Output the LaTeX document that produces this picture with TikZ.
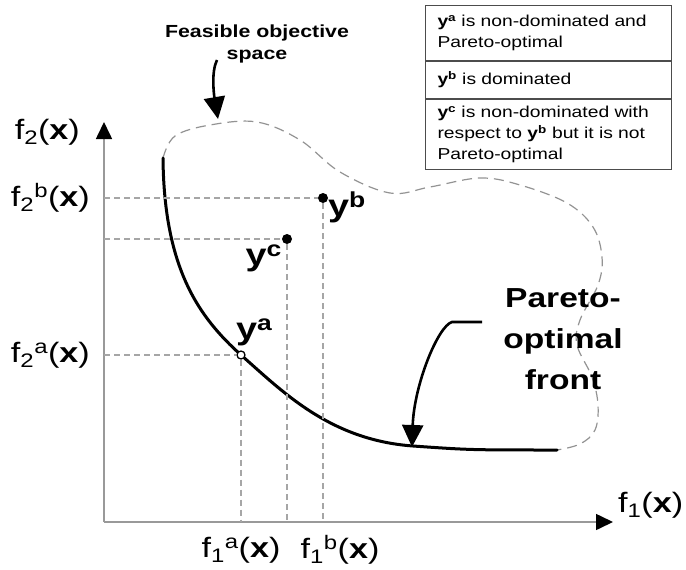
\documentclass[tikz,border=0pt]{standalone}
\usepackage{fontspec}
\setmainfont{Liberation Sans}[FakeStretch=1.22]
\usetikzlibrary{arrows.meta,positioning,calc}

\begin{document}
\begin{tikzpicture}[x=1pt, y=-1pt,
	axisline/.style={draw=gray!80, line width=1.6pt, -{Triangle[length=17pt,width=16pt,color=black]}},
	guide/.style={draw=gray!70, line width=1.2pt, dash pattern=on 6pt off 4pt},
	boundary/.style={draw=gray!85, line width=1.2pt, dash pattern=on 10pt off 6pt},
	paretofront/.style={line width=3pt, line cap=round},
	calloutarrow/.style={line width=2.6pt, -{Triangle[length=22pt,width=21pt]}},
	ptdot/.style={circle, fill=black, inner sep=0pt, minimum size=10pt},
	opendot/.style={circle, draw=black, fill=white, line width=1.3pt, inner sep=0pt, minimum size=8pt},
	lbl/.style={inner sep=0pt, font=\fontsize{28}{32}\selectfont},
	ptlbl/.style={inner sep=0pt, font=\fontsize{31}{34}\selectfont\bfseries},
	legrow/.style={draw=black!70, line width=1pt, anchor=north west, text width=222pt, inner xsep=12pt, inner ysep=0pt, align=left, font=\fontsize{15.8}{21}\selectfont}]
	\useasboundingbox (0,0) rectangle (686,570);
	\coordinate (O) at (104,522);
	\coordinate (ytop) at (104,122);
	\coordinate (xend) at (613,522);
	\draw[axisline] (O) -- (ytop);
	\draw[axisline] (O) -- (xend);
	\draw[boundary] plot[smooth, tension=0.6] coordinates
		{(163,158) (175,136) (210,125) (257,122) (300,140) (340,172) (390,193) (430,187) (480,178) (520,185) (567,203) (593,227) (602,257) (598,285) (580,320) (577,345) (592,377) (598,405) (595,430) (580,444) (557,450)};
	\draw[paretofront] (163,158) .. controls (164,270) and (200,318) .. (241,355)
		.. controls (283,392) and (330,440) .. (413,446) .. controls (470,450) .. (557,450);
	\node[opendot] (ya) at (241,355) {};
	\node[ptdot] (yb) at (323,198) {};
	\node[ptdot] (yc) at (287,239) {};
	\draw[guide] (O |- ya) -- (ya) -- (O -| ya);
	\draw[guide] (O |- yb) -- (yb) -- (O -| yb);
	\draw[guide] (O |- yc) -- (yc) -- (O -| yc);
	\node[ptlbl, anchor=south west] (lya) at (236,346) {y\textsuperscript{a}};
	\node[ptlbl, anchor=north west] (lyb) at (328,192) {y\textsuperscript{b}};
	\node[ptlbl, anchor=north east] (lyc) at (282,245) {y\textsuperscript{c}};
	\node[lbl, anchor=east] (f2) at (80,132) {f\textsubscript{2}(\textbf{x})};
	\node[lbl, anchor=east] (f2b) at (90,198) {f\textsubscript{2}\textsuperscript{b}(\textbf{x})};
	\node[lbl, anchor=east] (f2a) at (90,355) {f\textsubscript{2}\textsuperscript{a}(\textbf{x})};
	\node[lbl] (f1a) at (241,550) {f\textsubscript{1}\textsuperscript{a}(\textbf{x})};
	\node[lbl] (f1b) at (340,550) {f\textsubscript{1}\textsuperscript{b}(\textbf{x})};
	\node[lbl, anchor=west] (f1) at (618,505) {f\textsubscript{1}(\textbf{x})};
	\node[inner sep=0pt, align=center, font=\fontsize{17.5}{22}\selectfont\bfseries] (fos) at (257,44) {Feasible objective\\space};
	\coordinate (fosa) at (217,60);
	\coordinate (fost) at (218,119);
	\draw[calloutarrow] (fosa) .. controls (211,72) and (214,95) .. (fost);
	\node[inner sep=0pt, align=center, font=\fontsize{27.5}{41}\selectfont\bfseries] (pof) at (563,339) {Pareto-\\optimal\\front};
	\coordinate (pofa) at (482,322);
	\coordinate (poft) at (412,447);
	\draw[calloutarrow] (pofa) -- (452,322) .. controls (438,326) and (414,385) .. (poft);
	\node[legrow, minimum height=55pt] (lega) at (425,5) {\textbf{y\textsuperscript{a}} is non-dominated and\\Pareto-optimal};
	\node[legrow, minimum height=37pt] (legb) at (lega.south west) {\textbf{y\textsuperscript{b}} is dominated};
	\node[legrow, minimum height=70pt] (legc) at (legb.south west) {\textbf{y\textsuperscript{c}} is non-dominated with\\respect to \textbf{y\textsuperscript{b}} but it is not\\Pareto-optimal};
\end{tikzpicture}
\end{document}
